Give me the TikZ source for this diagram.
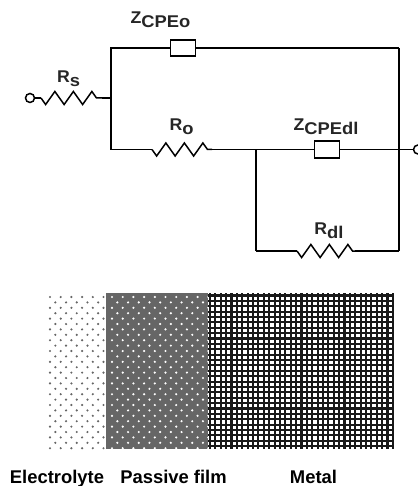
\documentclass[tikz,border=0pt]{standalone}
\usepackage{fontspec}
\setmainfont{Liberation Sans}
\usetikzlibrary{positioning, decorations.pathmorphing}
\newcommand{\sublabel}[2]{\scalebox{1.04}[1]{#1}\raisebox{-4pt}{\scalebox{1.08}[1]{#2}}}
\tikzset{
	wire/.style={line width=1.8pt, line join=miter},
	elembox/.style={draw, line width=1.8pt, fill=white, minimum width=25pt, minimum height=16.5pt, inner sep=0pt},
	resistor/.style={line width=1.5pt, decorate, decoration={zigzag, amplitude=6.5pt, segment length=18.5pt, mirror}},
	terminal/.style={draw, circle, line width=1.5pt, fill=white, minimum size=9pt, inner sep=0pt},
	elemlabel/.style={font=\bfseries\fontsize{17}{17}\selectfont, inner sep=0pt, text=black!85},
	layerlabel/.style={font=\bfseries\fontsize{18.4}{18.4}\selectfont, inner sep=0pt, anchor=base}
}
\begin{document}
\begin{tikzpicture}[x=1pt, y=-1pt, node distance=7pt]
	\useasboundingbox (0,0) rectangle (417,486);
	% circuit
	\coordinate (ltop) at (111,48);
	\coordinate (rtop) at (399,48);
	\coordinate (lmid) at (111,149.5);
	\coordinate (rs) at (111,98);
	\coordinate (node) at (256,149.5);
	\coordinate (lbot) at (256,251);
	\coordinate (rbot) at (399,251);
	\coordinate (rsa) at (41,98);
	\coordinate (rsb) at (102,98);
	\coordinate (roa) at (152,149.5);
	\coordinate (rob) at (212,149.5);
	\coordinate (rdla) at (297,251);
	\coordinate (rdlb) at (355,251);
	\node[terminal] (tl) at (30,98) {};
	\node[terminal] (tr) at (418,149.5) {};
	\node[elembox] (cpeo) at (183,48) {};
	\node[elembox] (cpedl) at (327,149.5) {};
	\draw[wire] (cpeo) -- (ltop) -- (lmid) -- (roa);
	\draw[wire] (cpeo) -- (rtop);
	\draw[wire, line width=2.3pt] (rtop) -- (rbot);
	\draw[wire] (rbot) -- (rdlb);
	\draw[wire] (rob) -- (node) -- (cpedl) -- (tr);
	\draw[wire, line width=2.1pt] (node) -- (lbot);
	\draw[wire] (lbot) -- (rdla);
	\draw[wire] (rsb) -- (rs);
	\draw[wire, line width=1.4pt] (tl) -- (rsa);
	\draw[resistor] (rsa) -- (rsb);
	\draw[resistor] (roa) -- (rob);
	\draw[resistor] (rdla) -- (rdlb);
	\node[elemlabel] (zo) at (160.5,20) {\sublabel{Z}{CPEo}};
	\node[elemlabel] (zdl) at (326,126.5) {\sublabel{Z}{CPEdl}};
	\node[elemlabel] (lrs) at (68.5,78.5) {\sublabel{R}{s}};
	\node[elemlabel] (lro) at (181.5,126.5) {\sublabel{R}{o}};
	\node[elemlabel] (lrdl) at (329,231) {\sublabel{R}{dl}};
	% layers
	\fill[black!60] (106,293) rectangle (208,449);
	\foreach \r in {0,...,28}{
		\pgfmathsetmacro{\off}{mod(\r,2)*5.35}
		\pgfmathsetmacro{\yy}{297+\r*5.4}
		\foreach \c in {0,...,5}
			\fill[black!60] ({50+\off+\c*10.7},\yy) circle (1.2pt);
		\foreach \c in {0,...,9}
			\fill[white] ({112+\off+\c*10.7},\yy) circle (1.2pt);
	}
	\foreach \i in {0,...,34}
		\draw[line width=2.1pt, black!90] ({210+\i*5.38},293) -- ({210+\i*5.38},449);
	\foreach \i in {0,...,28}
		\draw[line width=2.1pt, black!90] (208,{295.5+\i*5.38}) -- (393,{295.5+\i*5.38});
	\node[layerlabel] (electrolyte) at (57,483) {Electrolyte};
	\node[layerlabel] (film) at (173.5,483) {Passive film};
	\node[layerlabel] (metal) at (313.5,483) {Metal};
\end{tikzpicture}
\end{document}
